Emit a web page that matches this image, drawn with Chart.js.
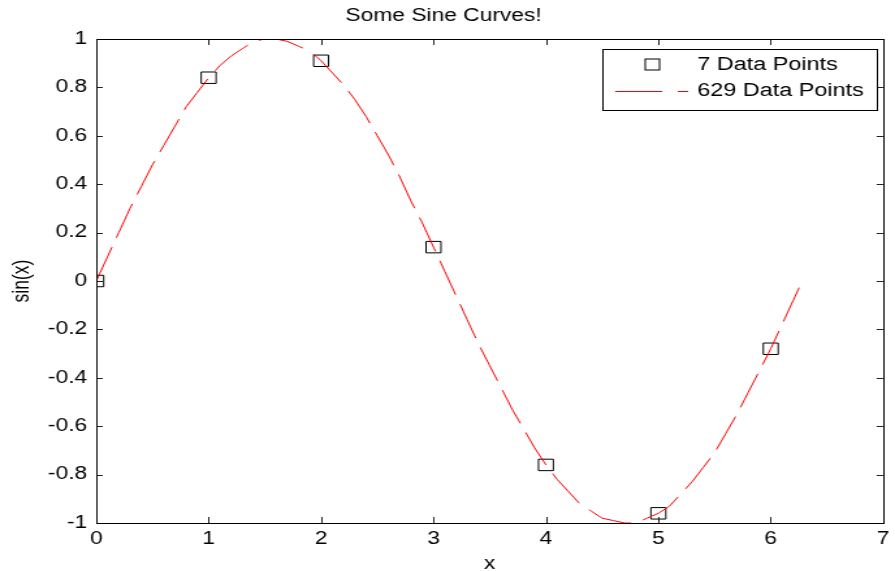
<!DOCTYPE html>
<html>
<head>
<meta charset="utf-8">
<script src="https://cdn.jsdelivr.net/npm/chart.js@4.4.1/dist/chart.umd.min.js"></script>
<style>
  html, body { margin: 0; padding: 0; background: #fff; }
  /* the reference figure is stretched sideways, so the chart is drawn narrower and scaled in x */
  #wrap { width: 688px; height: 571px; transform: scaleX(1.30087); transform-origin: 0 0; }
</style>
</head>
<body>
<div id="wrap"><canvas id="myChart"></canvas></div>
<script>
// 7 Data Points
const sampleX = [0, 1, 2, 3, 4, 5, 6];
const sampleY = [0, 0.84, 0.91, 0.14, -0.76, -0.96, -0.28];

// 629 Data Points
const curveX = [0, 0.1, 0.2, 0.3, 0.4, 0.5, 0.6, 0.7, 0.8, 0.9,
  1.0, 1.1, 1.2, 1.3, 1.4, 1.5, 1.6, 1.7, 1.8, 1.9,
  2.0, 2.1, 2.2, 2.3, 2.4, 2.5, 2.6, 2.7, 2.8, 2.9,
  3.0, 3.1, 3.2, 3.3, 3.4, 3.5, 3.6, 3.7, 3.8, 3.9,
  4.0, 4.1, 4.2, 4.3, 4.4, 4.5, 4.6, 4.7, 4.8, 4.9,
  5.0, 5.1, 5.2, 5.3, 5.4, 5.5, 5.6, 5.7, 5.8, 5.9,
  6.0, 6.1, 6.2, 6.28];
const curveY = [0.00, 0.10, 0.20, 0.30, 0.39, 0.48, 0.56, 0.64, 0.72, 0.78,
  0.84, 0.89, 0.93, 0.96, 0.99, 1.00, 1.00, 0.99, 0.97, 0.95,
  0.91, 0.86, 0.81, 0.75, 0.68, 0.60, 0.52, 0.43, 0.33, 0.24,
  0.14, 0.04, -0.06, -0.16, -0.26, -0.35, -0.44, -0.53, -0.61, -0.69,
  -0.76, -0.82, -0.87, -0.92, -0.95, -0.98, -0.99, -1.00, -1.00, -0.98,
  -0.96, -0.93, -0.88, -0.83, -0.77, -0.71, -0.63, -0.55, -0.46, -0.37,
  -0.28, -0.18, -0.08, 0.00];

const xTickLabels = ['0', '1', '2', '3', '4', '5', '6', '7'];
const yTickLabels = ['-1', '-0.8', '-0.6', '-0.4', '-0.2', '0', '0.2', '0.4', '0.6', '0.8', '1'];

const FONT = "'Liberation Sans', Arial, sans-serif";
const DASH = [36, 10];

// box round the axes, with MATLAB style inward ticks on all four sides
const boxPlugin = {
  id: 'box',
  afterDatasetsDraw(chart) {
    const {ctx, chartArea: a, scales} = chart;
    ctx.save();
    ctx.strokeStyle = '#222';
    ctx.lineWidth = 1;
    ctx.beginPath();
    scales.x.ticks.forEach(t => {
      const px = Math.round(scales.x.getPixelForValue(t.value)) + 0.5;
      ctx.moveTo(px, a.bottom); ctx.lineTo(px, a.bottom - 6);
      ctx.moveTo(px, a.top); ctx.lineTo(px, a.top + 6);
    });
    scales.y.ticks.forEach(t => {
      const py = Math.round(scales.y.getPixelForValue(t.value)) + 0.5;
      ctx.moveTo(a.left, py); ctx.lineTo(a.left + 5, py);
      ctx.moveTo(a.right, py); ctx.lineTo(a.right - 5, py);
    });
    ctx.stroke();
    ctx.strokeStyle = '#000';
    ctx.strokeRect(Math.round(a.left) + 0.5, Math.round(a.top) + 0.5,
      Math.round(a.right - a.left), Math.round(a.bottom - a.top));
    ctx.restore();
  }
};

// legend box in the upper right corner
const legendPlugin = {
  id: 'boxLegend',
  afterDraw(chart) {
    const {ctx} = chart;
    const ds = chart.data.datasets;
    const left = 463, right = 674, top = 49, bottom = 110;
    ctx.save();
    ctx.fillStyle = '#fff';
    ctx.fillRect(left, top, right - left, bottom - top);
    ctx.strokeStyle = '#000';
    ctx.lineWidth = 1;
    ctx.strokeRect(left + 0.5, top + 0.5, right - left, bottom - top);

    // row 1: square marker
    const y1 = 65, y2 = 91;
    ctx.strokeStyle = ds[1].borderColor;
    ctx.strokeRect(496, y1 - 6, 11, 11);
    // row 2: dashed red line
    ctx.strokeStyle = ds[0].borderColor;
    ctx.setLineDash([36, 12]);
    ctx.beginPath();
    ctx.moveTo(473, y2 + 0.5);
    ctx.lineTo(529, y2 + 0.5);
    ctx.stroke();
    ctx.setLineDash([]);

    ctx.fillStyle = '#000';
    ctx.font = '18px ' + FONT;
    ctx.textBaseline = 'middle';
    ctx.fillText(ds[1].label, 536, y1);
    ctx.fillText(ds[0].label, 536, y2);
    ctx.restore();
  }
};

new Chart(document.getElementById('myChart'), {
  type: 'scatter',
  data: {
    datasets: [
      {
        label: '629 Data Points',
        data: curveX.map((x, i) => ({x: x, y: curveY[i]})),
        showLine: true,
        borderColor: '#ff0000',
        borderWidth: 1,
        borderDash: DASH,
        pointRadius: 0,
        tension: 0,
        order: 0
      },
      {
        label: '7 Data Points',
        data: sampleX.map((x, i) => ({x: x, y: sampleY[i]})),
        showLine: false,
        pointStyle: 'rect',
        pointRadius: 8.1,
        borderColor: '#000',
        backgroundColor: 'rgba(0,0,0,0)',
        borderWidth: 1,
        order: 1
      }
    ]
  },
  options: {
    responsive: true,
    maintainAspectRatio: false,
    animation: false,
    layout: { padding: { left: 0, right: 6, top: 0, bottom: 0 } },
    plugins: {
      legend: { display: false },
      tooltip: { enabled: false },
      title: {
        display: true,
        text: 'Some Sine Curves!',
        color: '#000',
        font: { family: FONT, size: 17.5, weight: 'normal' },
        padding: { top: 5.5, bottom: 12.5 }
      }
    },
    scales: {
      x: {
        type: 'linear',
        min: 0,
        max: 7,
        grid: { display: false, drawTicks: false },
        border: { display: false },
        ticks: {
          stepSize: 1,
          padding: 6,
          color: '#000',
          maxRotation: 0,
          font: { family: FONT, size: 17.5 },
          callback: (v, i) => xTickLabels[i]
        },
        title: {
          display: true,
          text: 'x',
          color: '#000',
          font: { family: FONT, size: 17.5, lineHeight: 0.8 },
          padding: { top: 0, bottom: 0 }
        },
        afterFit: s => { s.height = 48; s.paddingRight = 0; }
      },
      y: {
        type: 'linear',
        min: -1,
        max: 1,
        grid: { display: false, drawTicks: false },
        border: { display: false },
        ticks: {
          stepSize: 0.2,
          padding: 7,
          color: '#000',
          font: { family: FONT, size: 17.5 },
          callback: (v, i) => yTickLabels[i]
        },
        title: {
          display: true,
          text: 'sin(x)',
          color: '#000',
          font: { family: FONT, size: 17.5 },
          padding: { top: 6.5, bottom: 0 }
        },
        afterFit: s => { s.width = 74; }
      }
    }
  },
  plugins: [boxPlugin, legendPlugin]
});
</script>
</body>
</html>
